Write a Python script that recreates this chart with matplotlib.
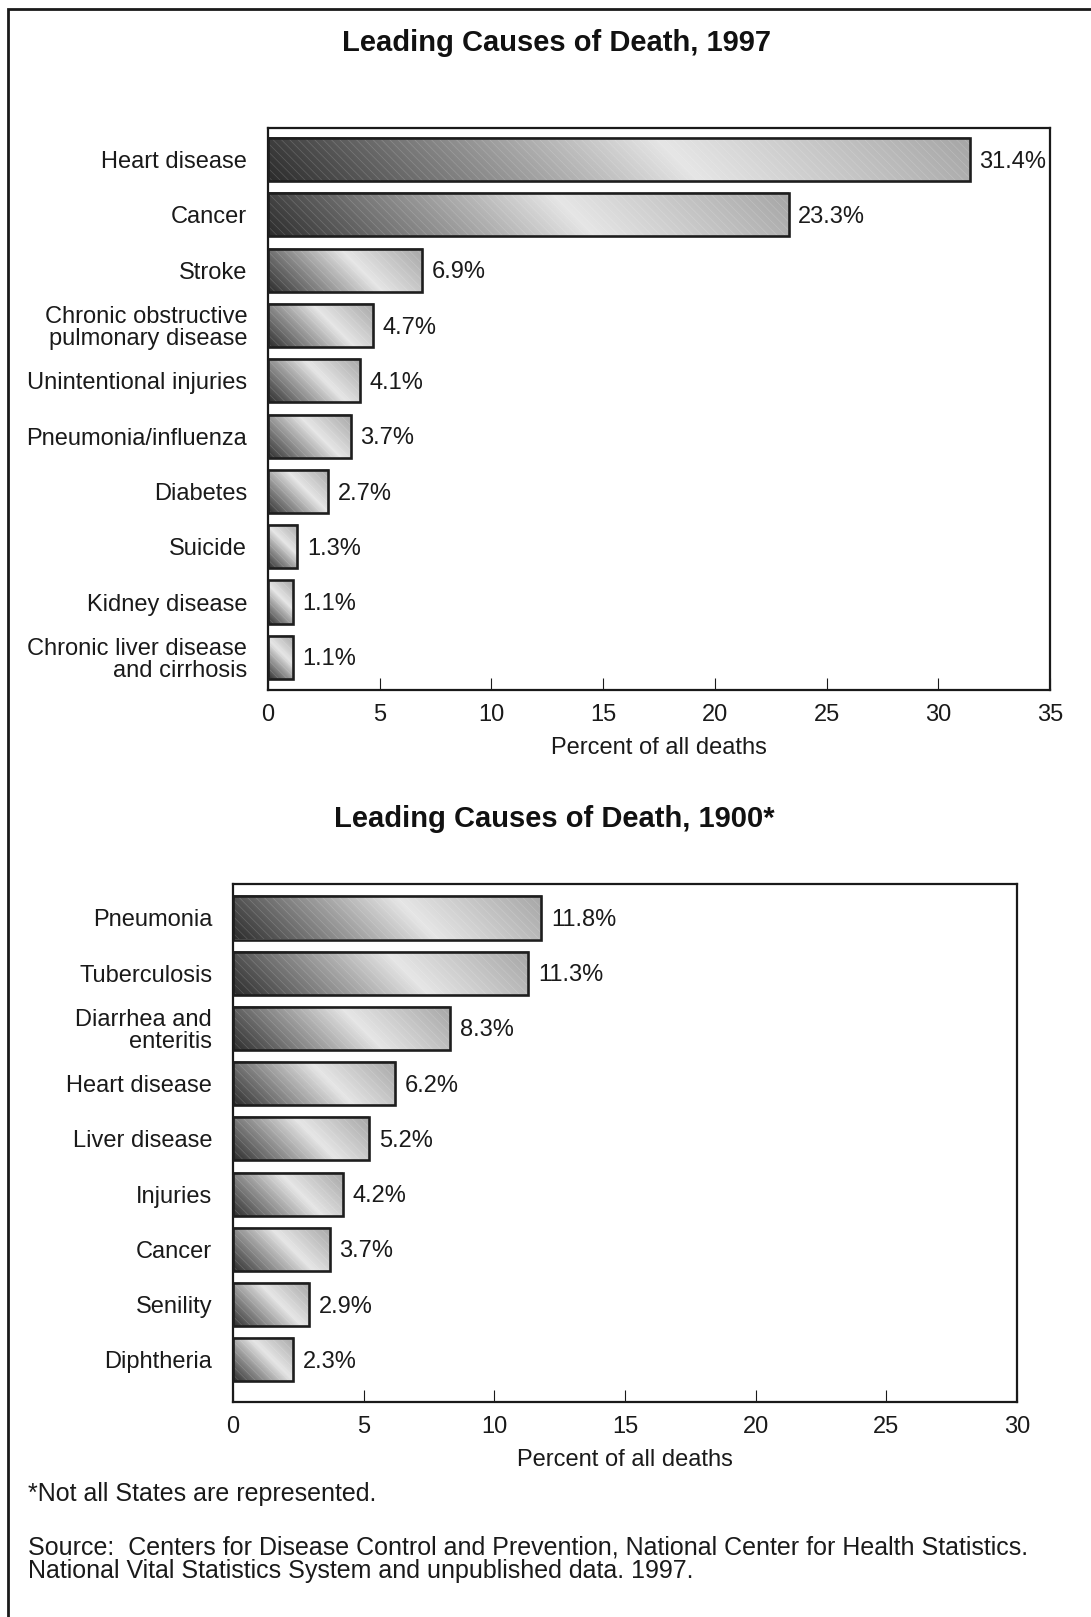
import matplotlib
matplotlib.use("Agg")
import numpy as np
import matplotlib.pyplot as plt
from matplotlib.colors import LinearSegmentedColormap
from matplotlib.patches import Rectangle

plt.rcParams["font.family"] = ["Liberation Sans", "DejaVu Sans"]
plt.rcParams["hatch.linewidth"] = 0.5

# data
causes_1997 = ["Heart disease", "Cancer", "Stroke",
               "Chronic obstructive\npulmonary disease", "Unintentional injuries",
               "Pneumonia/influenza", "Diabetes", "Suicide", "Kidney disease",
               "Chronic liver disease\nand cirrhosis"]
pct_1997 = [31.4, 23.3, 6.9, 4.7, 4.1, 3.7, 2.7, 1.3, 1.1, 1.1]

causes_1900 = ["Pneumonia", "Tuberculosis", "Diarrhea and\nenteritis", "Heart disease",
               "Liver disease", "Injuries", "Cancer", "Senility", "Diphtheria"]
pct_1900 = [11.8, 11.3, 8.3, 6.2, 5.2, 4.2, 3.7, 2.9, 2.3]

ticks_1997 = [0, 5, 10, 15, 20, 25, 30, 35]
ticks_1900 = [0, 5, 10, 15, 20, 25, 30]

W, H = 1091, 1617
BAR_H = 0.78
ROW_PX = 55.3
FS = 17

metal = LinearSegmentedColormap.from_list(
    "metal", [(0.0, "#2c2c2c"), (0.22, "#757575"), (0.58, "#e6e6e6"), (1.0, "#a6a6a6")])


def gradient_bar(ax, y, val, px_per_x):
    bw = max(val * px_per_x, 1)
    bh = BAR_H * ROW_PX
    nx, ny = 200, 60
    u = np.linspace(0, 1, nx)[None, :]
    v = np.linspace(0, 1, ny)[:, None]
    t = (u * bw + v * bh) / (bw + bh)
    ax.imshow(t, cmap=metal, vmin=0, vmax=1, origin="lower", aspect="auto",
              extent=(0, val, y + BAR_H / 2, y - BAR_H / 2),
              interpolation="bilinear", zorder=2)
    ax.add_patch(Rectangle((0, y - BAR_H / 2), val, BAR_H, facecolor="none",
                           edgecolor=(1, 1, 1, 0.18), hatch="\\\\\\\\", lw=0, zorder=3))
    ax.add_patch(Rectangle((0, y - BAR_H / 2), val, BAR_H, facecolor="none",
                           edgecolor="#1e1e1e", lw=1.9, zorder=4))


def panel(rect_px, causes, pct, ticks, top_pad, bot_pad):
    left, right, top, bottom = rect_px
    ax = fig.add_axes([left / W, 1 - bottom / H, (right - left) / W, (bottom - top) / H])
    xmax = ticks[-1]
    px_per_x = (right - left) / xmax
    n = len(causes)
    for i, v in enumerate(pct):
        gradient_bar(ax, i, v, px_per_x)
        ax.annotate(f"{v}%", (v, i), xytext=(7, -1.5), textcoords="offset points",
                    va="center", ha="left", fontsize=FS, color="#1a1a1a")
    ax.set_xlim(0, xmax)
    ax.set_ylim(n - 1 + bot_pad, -top_pad)
    ax.set_xticks(ticks)
    ax.set_xticklabels([str(t) for t in ticks])
    ax.set_yticks(range(n))
    ax.set_yticklabels(causes, linespacing=1.0)
    ax.tick_params(axis="x", direction="in", length=9, width=0.8, pad=10,
                   labelsize=FS, colors="#1a1a1a")
    ax.tick_params(axis="y", length=0, pad=15, labelsize=FS, colors="#1a1a1a")
    for s in ax.spines.values():
        s.set_linewidth(1.6)
        s.set_color("#1a1a1a")
    ax.set_xlabel("Percent of all deaths", fontsize=FS, labelpad=8, color="#1a1a1a")
    return ax


fig = plt.figure(figsize=(W / 100, H / 100), dpi=100)

panel((268, 1050, 128, 690), causes_1997, pct_1997, ticks_1997, 0.57, 0.59)
panel((233, 1017, 884, 1402), causes_1900, pct_1900, ticks_1900, 0.615, 0.765)

fig.text(557 / W, 1 - 43 / H, "Leading Causes of Death, 1997", ha="center", va="center",
         fontsize=21, fontweight="bold", color="#111111")
fig.text(554 / W, 1 - 819 / H, "Leading Causes of Death, 1900*", ha="center", va="center",
         fontsize=21, fontweight="bold", color="#111111")

fig.text(28 / W, 1 - 1494 / H, "*Not all States are represented.", ha="left", va="center",
         fontsize=18, color="#1a1a1a")
fig.text(28 / W, 1 - 1559 / H,
         "Source:  Centers for Disease Control and Prevention, National Center for Health Statistics.\n"
         "National Vital Statistics System and unpublished data. 1997.",
         ha="left", va="center", fontsize=18, linespacing=0.98, color="#1a1a1a")

# outer frame (cropped on right and bottom in the original)
fig.add_artist(Rectangle((8 / W, -0.05), 1.2, 1 - 9 / H + 0.05, transform=fig.transFigure,
                         facecolor="none", edgecolor="#1a1a1a", lw=2))

fig.savefig("out.png", dpi=100)
